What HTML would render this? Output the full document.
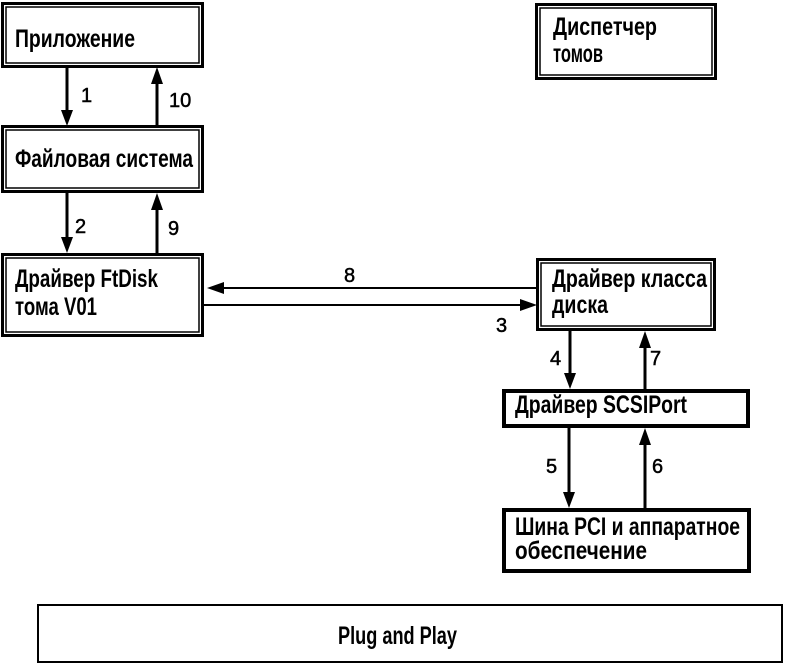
<!DOCTYPE html>
<html>
<head>
<meta charset="utf-8">
<style>
  html, body { margin: 0; padding: 0; background: #fff; }
  svg { display: block; }
  text { font-family: "Liberation Sans", "DejaVu Sans", sans-serif; fill: #000; }
  .t { font-size: 25px; font-weight: bold; }
  .n { font-size: 20px; stroke: #000; stroke-width: 0.5; }
</style>
</head>
<body>
<svg width="787" height="672" viewBox="0 0 787 672" xmlns="http://www.w3.org/2000/svg">
  <rect x="0" y="0" width="787" height="672" fill="#fff"/>

  <!-- Double-border boxes -->
  <g fill="none" stroke="#000">
    <rect x="2.5" y="3.5" width="200" height="63" stroke-width="3"/>
    <rect x="6" y="7" width="193" height="56" stroke-width="1.5"/>
    <rect x="2.5" y="126.5" width="200" height="65" stroke-width="3"/>
    <rect x="6" y="130" width="193" height="58" stroke-width="1.5"/>
    <rect x="2.5" y="254.5" width="200" height="81" stroke-width="3"/>
    <rect x="6" y="258" width="193" height="74" stroke-width="1.5"/>
    <rect x="537.5" y="259.5" width="177" height="70" stroke-width="3"/>
    <rect x="541" y="263" width="170" height="63" stroke-width="1.5"/>
    <rect x="536.5" y="4.5" width="179" height="74" stroke-width="3"/>
    <rect x="540" y="8" width="172" height="67" stroke-width="1.5"/>
    <rect x="504" y="391" width="244" height="35" stroke-width="4"/>
    <rect x="504" y="510" width="245" height="61" stroke-width="4"/>
    <rect x="38" y="605" width="744" height="57" stroke-width="2"/>
  </g>

  <!-- Arrow shafts -->
  <g stroke="#000" fill="none">
    <line x1="67" y1="68" x2="67" y2="112" stroke-width="3"/>
    <line x1="157" y1="126" x2="157" y2="82" stroke-width="3"/>
    <line x1="67" y1="193" x2="67" y2="239" stroke-width="3"/>
    <line x1="157" y1="253" x2="157" y2="208" stroke-width="3"/>
    <line x1="536" y1="288" x2="222" y2="288" stroke-width="2"/>
    <line x1="203" y1="305" x2="522" y2="305" stroke-width="2"/>
    <line x1="570" y1="331" x2="570" y2="375" stroke-width="3"/>
    <line x1="645" y1="389" x2="645" y2="346" stroke-width="3"/>
    <line x1="569" y1="428" x2="569" y2="494" stroke-width="3"/>
    <line x1="645" y1="508" x2="645" y2="443" stroke-width="3"/>
  </g>

  <!-- Arrowheads -->
  <g fill="#000">
    <polygon points="61,110 73,110 67,126"/>
    <polygon points="151,84 163,84 157,67"/>
    <polygon points="61,237 73,237 67,253"/>
    <polygon points="151,210 163,210 157,193"/>
    <polygon points="224,282 224,294 207,288"/>
    <polygon points="520,299 520,311 537,305"/>
    <polygon points="564,373 576,373 570,389"/>
    <polygon points="639,348 651,348 645,331"/>
    <polygon points="563,492 575,492 569,508"/>
    <polygon points="639,445 651,445 645,428"/>
  </g>

  <!-- Box labels -->
  <text class="t" x="15" y="47" textLength="120" lengthAdjust="spacingAndGlyphs">Приложение</text>
  <text class="t" x="15" y="167" textLength="178" lengthAdjust="spacingAndGlyphs">Файловая система</text>
  <text class="t" x="15" y="287" textLength="143" lengthAdjust="spacingAndGlyphs">Драйвер FtDisk</text>
  <text class="t" x="15" y="315" textLength="82" lengthAdjust="spacingAndGlyphs">тома V01</text>
  <text class="t" x="552" y="287" textLength="155" lengthAdjust="spacingAndGlyphs">Драйвер класса</text>
  <text class="t" x="552" y="313" textLength="56" lengthAdjust="spacingAndGlyphs">диска</text>
  <text class="t" x="553" y="35" textLength="104" lengthAdjust="spacingAndGlyphs">Диспетчер</text>
  <text class="t" x="553" y="62" textLength="50" lengthAdjust="spacingAndGlyphs">томов</text>
  <text class="t" x="515" y="413" textLength="172" lengthAdjust="spacingAndGlyphs">Драйвер SCSIPort</text>
  <text class="t" x="515" y="535" textLength="225" lengthAdjust="spacingAndGlyphs">Шина PCI и аппаратное</text>
  <text class="t" x="515" y="559" textLength="132" lengthAdjust="spacingAndGlyphs">обеспечение</text>
  <text class="t" x="338" y="644" textLength="119" lengthAdjust="spacingAndGlyphs">Plug and Play</text>

  <!-- Connector numbers -->
  <text class="n" x="81" y="102">1</text>
  <text class="n" x="169" y="107">10</text>
  <text class="n" x="75" y="233">2</text>
  <text class="n" x="168" y="235">9</text>
  <text class="n" x="344" y="282">8</text>
  <text class="n" x="496" y="332">3</text>
  <text class="n" x="550" y="365">4</text>
  <text class="n" x="650" y="365">7</text>
  <text class="n" x="546" y="473">5</text>
  <text class="n" x="652" y="473">6</text>
</svg>
</body>
</html>
